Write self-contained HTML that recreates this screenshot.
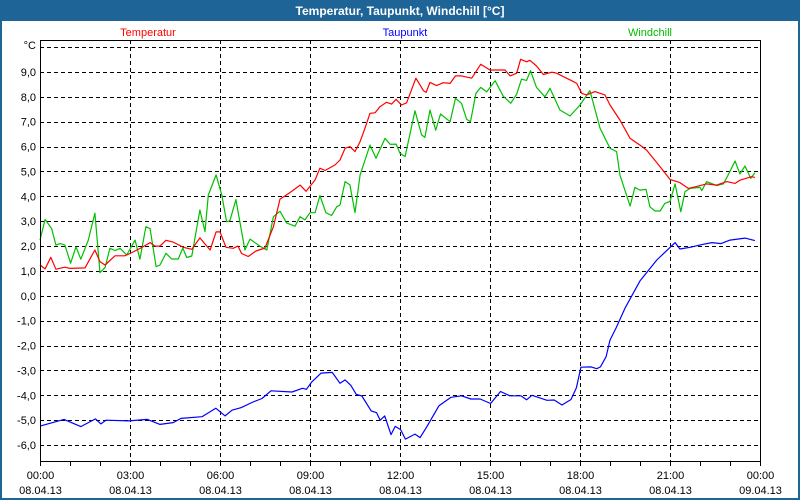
<!DOCTYPE html>
<html><head><meta charset="utf-8"><style>
html,body{margin:0;padding:0;background:#fff;}
svg{display:block;font-family:"Liberation Sans",sans-serif;}
</style></head><body>
<svg id="chart" width="800" height="500" viewBox="0 0 800 500">
<rect x="0" y="0" width="800" height="500" fill="#1e6497"/>
<rect x="2" y="21" width="796" height="477" fill="#fff"/>
<text x="400" y="15" text-anchor="middle" font-size="12" font-weight="bold" fill="#fff">Temperatur, Taupunkt, Windchill [°C]</text>
<text x="148" y="36" text-anchor="middle" font-size="11" fill="#ff0000">Temperatur</text>
<text x="405" y="36" text-anchor="middle" font-size="11" fill="#0000ff">Taupunkt</text>
<text x="650" y="36" text-anchor="middle" font-size="11" fill="#00bb00">Windchill</text>
<g id="grid"></g>
<g id="series"></g>
<g id="axes"></g>
</svg>
<script>
const yTicks=[-6,-5,-4,-3,-2,-1,0,1,2,3,4,5,6,7,8,9];
const xTickHours=[0,3,6,9,12,15,18,21,24];
const xTimeLabels=["00:00","03:00","06:00","09:00","12:00","15:00","18:00","21:00","00:00"];
const xDateLabels=["08.04.13","08.04.13","08.04.13","08.04.13","08.04.13","08.04.13","08.04.13","08.04.13","09.04.13"];

const tempHours=[0,0.17,0.36,0.53,0.83,1.0,1.5,1.83,2.0,2.17,2.5,2.83,3.0,3.33,3.67,3.83,4.0,4.2,4.44,4.78,5.06,5.33,5.67,5.87,6.0,6.2,6.44,6.6,6.72,6.94,7.2,7.5,7.78,8.0,8.33,8.67,8.87,9.17,9.33,9.5,9.83,10.0,10.17,10.33,10.5,10.67,10.83,11.0,11.17,11.33,11.55,11.72,11.87,12.05,12.22,12.53,12.78,12.87,13.0,13.22,13.44,13.67,13.85,14.05,14.39,14.69,15.0,15.5,15.67,15.89,16.02,16.22,16.33,16.55,16.78,17.06,17.22,17.45,17.72,17.89,18.06,18.22,18.5,18.83,19.0,19.33,19.67,20.0,20.22,20.67,21.0,21.33,21.61,21.89,22.22,22.56,22.89,23.17,23.33,23.72,23.83];
const tempValues=[1.24,1.08,1.55,1.07,1.15,1.1,1.12,1.84,1.37,1.24,1.61,1.61,1.7,1.9,2.14,2.0,2.0,2.23,2.16,1.95,1.87,2.33,1.84,2.57,2.57,1.95,1.91,2.0,1.7,1.58,1.8,1.92,2.78,3.89,4.15,4.45,4.2,4.66,5.13,5.04,5.26,5.46,5.93,6.0,5.8,6.2,6.73,7.34,7.36,7.6,7.78,7.71,7.9,7.67,7.76,8.75,8.25,8.18,8.58,8.45,8.57,8.54,8.84,8.84,8.75,9.31,9.08,9.08,8.84,8.95,9.51,9.41,9.47,9.24,8.9,8.99,8.95,8.81,8.65,8.54,8.14,8.08,8.21,8.08,7.67,7.07,6.33,6.06,5.86,5.19,4.68,4.55,4.32,4.4,4.5,4.45,4.59,4.52,4.65,4.79,4.76];

const dewHours=[0,0.8,1.36,1.85,2.03,2.2,2.96,3.58,4.0,4.44,4.7,5.4,5.86,6.17,6.4,6.7,7.1,7.4,7.7,8.4,8.75,8.88,9.06,9.37,9.74,10.0,10.17,10.36,10.54,10.73,11.04,11.22,11.34,11.49,11.7,11.84,12.02,12.18,12.5,12.67,12.88,13.3,13.7,14.05,14.36,14.67,15.02,15.35,15.66,16.03,16.22,16.4,16.9,17.14,17.4,17.7,17.88,18.03,18.37,18.56,18.68,18.87,19.0,19.2,19.5,20.0,20.56,21.17,21.33,21.67,22.1,22.4,22.7,23.0,23.5,23.83];
const dewValues=[-5.24,-4.97,-5.26,-4.95,-5.15,-5.0,-5.03,-4.97,-5.17,-5.1,-4.93,-4.86,-4.52,-4.83,-4.6,-4.5,-4.27,-4.13,-3.82,-3.87,-3.72,-3.76,-3.46,-3.11,-3.08,-3.52,-3.38,-3.6,-3.96,-4.03,-4.63,-4.7,-5.0,-4.83,-5.58,-5.25,-5.38,-5.76,-5.56,-5.7,-5.29,-4.42,-4.08,-4.02,-4.15,-4.15,-4.33,-3.85,-4.02,-4.02,-4.18,-4.0,-4.2,-4.19,-4.39,-4.17,-3.7,-2.87,-2.86,-2.93,-2.86,-2.45,-1.78,-1.3,-0.5,0.6,1.44,2.14,1.88,1.95,2.07,2.14,2.1,2.24,2.32,2.22];

const windHours=[0,0.17,0.39,0.53,0.67,0.83,1.02,1.2,1.36,1.61,1.83,2.0,2.17,2.33,2.5,2.67,2.89,3.17,3.33,3.53,3.67,3.87,4.0,4.2,4.39,4.61,4.76,4.89,5.06,5.33,5.5,5.61,5.87,6.06,6.22,6.33,6.53,6.83,7.0,7.33,7.56,7.78,8.0,8.22,8.5,8.67,8.83,9.0,9.17,9.33,9.53,9.72,9.89,10.0,10.17,10.33,10.5,10.67,11.0,11.2,11.5,11.67,11.87,12.0,12.17,12.5,12.72,12.83,13.0,13.19,13.35,13.67,13.85,14.05,14.22,14.35,14.53,14.69,14.89,15.17,15.44,15.69,15.89,16.05,16.22,16.35,16.55,16.83,17.0,17.33,17.67,18.0,18.33,18.67,19.0,19.22,19.33,19.67,19.83,20.0,20.2,20.33,20.5,20.67,20.83,21.0,21.17,21.36,21.5,21.67,22.0,22.06,22.22,22.56,22.78,22.94,23.17,23.33,23.5,23.69,23.83];
const windValues=[2.24,3.07,2.7,2.04,2.1,2.04,1.31,1.97,1.47,2.24,3.32,0.93,1.14,1.91,1.82,1.91,1.64,2.24,1.47,2.78,2.7,1.17,1.24,1.71,1.48,1.48,1.92,1.54,1.6,3.45,2.58,4.05,4.86,4.05,2.98,3.02,3.87,1.84,2.28,2.0,1.84,3.18,3.4,2.93,2.8,3.18,3.05,3.34,3.34,4.03,3.34,3.23,3.58,3.65,4.59,4.46,3.34,4.86,6.06,5.53,6.33,6.09,6.1,5.73,5.6,7.44,6.47,6.37,7.47,6.66,7.31,7.0,7.94,7.74,7.1,7.0,8.14,8.38,8.2,8.65,8.03,7.74,8.11,8.71,8.66,9.05,8.38,8.0,8.34,7.47,7.23,7.67,8.25,6.73,5.93,5.8,4.86,3.61,4.36,4.25,4.28,3.58,3.41,3.41,3.72,3.79,4.5,3.38,4.19,4.32,4.36,4.23,4.59,4.43,4.5,4.86,5.42,4.9,5.22,4.72,4.95];

const NS="http://www.w3.org/2000/svg";
const X0=40,X1=760,YT=40,YB=461;
function xScale(h){return X0+(X1-X0)*h/24;}
function yScale(v){return 295.8-24.87*v;}
function mk(tag,attrs,parent){const e=document.createElementNS(NS,tag);for(const k in attrs)e.setAttribute(k,attrs[k]);parent.appendChild(e);return e;}
const grid=document.getElementById('grid'),axes=document.getElementById('axes'),series=document.getElementById('series');

yTicks.concat([10]).forEach(function(v){
  const y=Math.round(yScale(v))+0.5;
  const l=mk('line',{x1:X0,x2:X1,y1:y,y2:y,stroke:'#000','stroke-dasharray':'4,3','stroke-width':1},grid);
  
  
});
yTicks.forEach(function(v){
  const t=mk('text',{x:36,y:yScale(v)+4,'text-anchor':'end','font-size':11,fill:'#000'},axes);
  t.textContent=v.toFixed(1).replace('.',',');
  
  
});
const unit=mk('text',{x:36,y:yScale(10)+2,'text-anchor':'end','font-size':11,fill:'#000'},axes);
unit.textContent='°C';



xTickHours.forEach(function(h,i){
  const x=Math.round(xScale(h))+0.5;
  if(h>0&&h<24){
    const g=mk('line',{x1:x,x2:x,y1:YT,y2:YB,stroke:'#000','stroke-dasharray':'4,3'},grid);
    
    
  }
  const t1=mk('text',{x:x,y:479,'text-anchor':'middle','font-size':11,fill:'#000'},axes);
  t1.textContent=xTimeLabels[i];
  
  
  const t2=mk('text',{x:x,y:494,'text-anchor':'middle','font-size':11,fill:'#000'},axes);
  t2.textContent=xDateLabels[i];
  
  
});
for(let h=0;h<=24;h++){
  const x=Math.round(xScale(h))+0.5;
  const tk=mk('line',{x1:x,x2:x,y1:YB,y2:YB+5,stroke:'#000'},axes);
  
  
}
const box=mk('rect',{x:X0+0.5,y:YT+0.5,width:X1-X0,height:YB-YT,fill:'none',stroke:'#000','stroke-width':1},axes);



function drawLine(hours,vals,color,name){
  const pts=hours.map(function(h,i){return xScale(h).toFixed(1)+','+yScale(vals[i]).toFixed(1);}).join(' ');
  const p=mk('polyline',{points:pts,fill:'none',stroke:color,'stroke-width':1.2,'stroke-linejoin':'round'},series);
  
  
}
drawLine(windHours,windValues,'#00c000','windchill-line');
drawLine(tempHours,tempValues,'#ff0000','temperatur-line');
drawLine(dewHours,dewValues,'#0000ff','taupunkt-line');
</script>
</body></html>
